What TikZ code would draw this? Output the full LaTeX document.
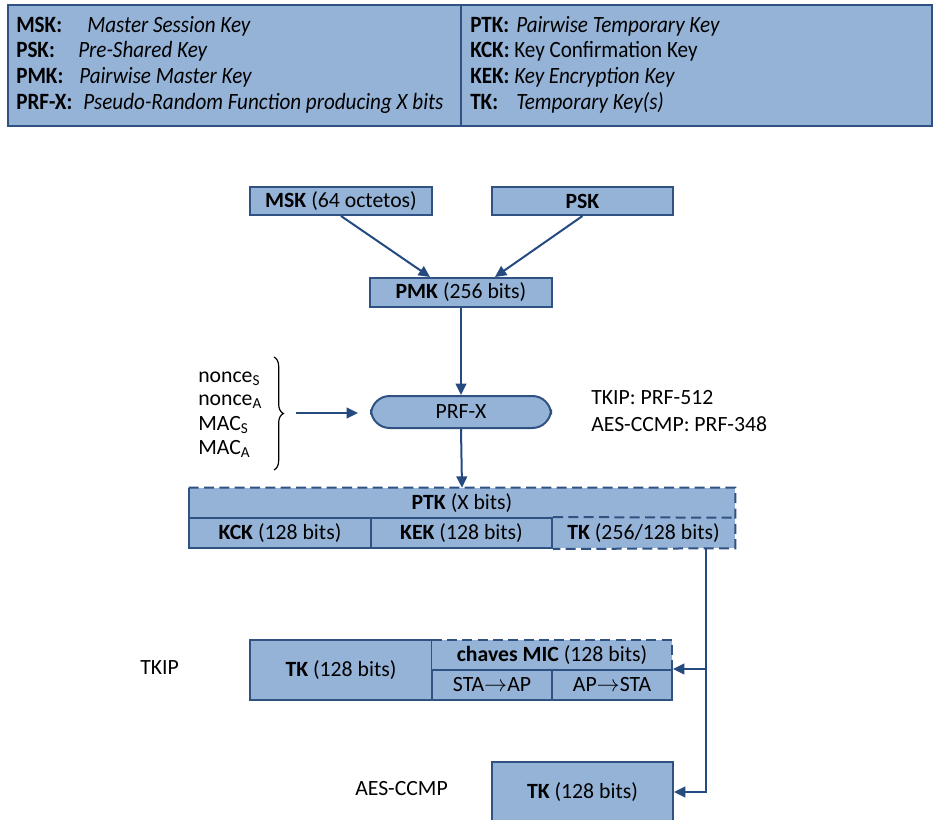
\documentclass[tikz,border=0pt]{standalone}
\usepackage{fontspec}
\setmainfont{Carlito}
\newfontfamily\glossfont[FakeStretch=0.905]{Carlito}
\usetikzlibrary{arrows.meta,decorations.pathreplacing}
\definecolor{boxfill}{HTML}{95B3D7}
\definecolor{boxline}{HTML}{2F5283}
\definecolor{arrowc}{HTML}{244A7F}
\tikzset{
  dims/.style args={#1 by #2}{minimum width=#1*0.75pt, minimum height=#2*0.75pt},
  keybox/.style={draw=boxline, fill=boxfill, line width=1.5pt, inner sep=0pt},
  cell/.style={fill=boxfill, inner sep=0pt},
  edge/.style={draw=boxline, line width=1.5pt},
  dashedge/.style={draw=boxline, line width=1.5pt, dash pattern=on 7.5pt off 4pt},
  conn/.style={draw=arrowc, line width=1.5pt, -{Triangle[length=8.5pt,width=8pt]}},
  gl/.style={anchor=base west, inner sep=0pt, font=\glossfont\fontsize{17.5}{20}\selectfont},
  lbl/.style={anchor=west, inner sep=0pt},
}
\begin{document}
\begin{tikzpicture}[x=0.75pt, y=-0.75pt, font=\fontsize{16.3}{19}\selectfont]
\clip (0,0) rectangle (935,820);

% glossary panel
\node[keybox, dims=453 by 121] (glossL) at (234.5,65.5) {};
\node[keybox, dims=471 by 121] (glossR) at (696.5,65.5) {};
\node[gl] (gmsk)  at (16,33)  {\textbf{MSK:}};
\node[gl] (gmskd) at (87,33)  {\textit{Master Session Key}};
\node[gl] (gpsk)  at (16,58)  {\textbf{PSK:}};
\node[gl] (gpskd) at (78,58)  {\textit{Pre-Shared Key}};
\node[gl] (gpmk)  at (16,84)  {\textbf{PMK:}};
\node[gl] (gpmkd) at (79,84)  {\textit{Pairwise Master Key}};
\node[gl] (gprf)  at (16,110) {\textbf{PRF-X:}};
\node[gl] (gprfd) at (83,110) {\textit{Pseudo-Random Function producing X bits}};
\node[gl] (gptk)  at (470,33)  {\textbf{PTK:}};
\node[gl] (gptkd) at (516,33)  {\textit{Pairwise Temporary Key}};
\node[gl] (gkck)  at (470,58)  {\textbf{KCK:}};
\node[gl] (gkckd) at (514,58)  {Key Confirmation Key};
\node[gl] (gkek)  at (470,84)  {\textbf{KEK:}};
\node[gl] (gkekd) at (514,84)  {\textit{Key Encryption Key}};
\node[gl] (gtk)   at (470,110) {\textbf{TK:}};
\node[gl] (gtkd)  at (516,110) {\textit{Temporary Key(s)}};

% master keys
\node[keybox, dims=182 by 28] (msk) at (341,201) {\textbf{MSK} (64 octetos)};
\node[keybox, dims=181 by 28] (psk) at (582.5,201) {\textbf{PSK}};
\node[keybox, dims=182 by 29] (pmk) at (461,292.5) {\textbf{PMK} (256 bits)};
\draw[conn] (msk.south) -- (pmk.north -| 430,0);
\draw[conn] (psk.south) -- (pmk.north -| 495,0);

% PRF
\node[keybox, rounded corners=14pt, dims=180 by 32] (prf) at (461,412) {PRF-X};
\draw[conn] (pmk.south) -- (prf.north);
\node[lbl] (ns) at (198,379) {nonce\textsubscript{S}};
\node[lbl] (na) at (198,402) {nonce\textsubscript{A}};
\node[lbl] (ms) at (198,425) {MAC\textsubscript{S}};
\node[lbl] (ma) at (198,449) {MAC\textsubscript{A}};
\draw[black, line width=0.9pt, decorate, decoration={brace, amplitude=7pt}] (274,357) -- (274,470);
\coordinate (bracetip) at (296,413);
\coordinate (prfin) at (358,413);
\draw[conn] (bracetip) -- (prfin);
\node[lbl] (tkipprf) at (591,398) {TKIP: PRF-512};
\node[lbl] (aesprf) at (591,424) {AES-CCMP: PRF-348};

% PTK layout
\node[cell, dims=546 by 30] (ptk) at (462,503) {\textbf{PTK} (X bits)};
\node[cell, dims=183 by 30] (tkc) at (643.5,533) {\textbf{TK} (256/128 bits)};
\node[keybox, dims=182 by 30] (kck) at (280,533) {\textbf{KCK} (128 bits)};
\node[keybox, dims=181 by 30] (kek) at (461.5,533) {\textbf{KEK} (128 bits)};
\draw[edge] (ptk.south west) -- (ptk.north west);
\draw[dashedge] (ptk.north west) -- (ptk.north east) -- (tkc.south east) -- (kek.south east);
\draw[dashedge] (kek.north east) -- (tkc.north east);
\draw[conn] (prf.south) -- (ptk.north);

% TKIP layout
\node[lbl] (tkip) at (140,668) {TKIP};
\node[keybox, dims=182 by 60] (tk1) at (341,670) {\textbf{TK} (128 bits)};
\node[cell, dims=240 by 30] (mic) at (552,655) {\textbf{chaves MIC} (128 bits)};
\node[keybox, dims=120 by 30] (sta) at (492,685) {STA$\rightarrow$AP};
\node[keybox, dims=120 by 30] (ap) at (612,685) {AP$\rightarrow$STA};
\draw[dashedge] (mic.north west) -- (mic.north east) -- (mic.south east);

% AES-CCMP layout
\node[lbl] (aes) at (355,789) {AES-CCMP};
\node[keybox, dims=181 by 60] (tk2) at (582.5,792) {\textbf{TK} (128 bits)};

% TK distribution
\coordinate (trunk) at (706,0);
\draw[conn] (trunk |- tkc.south) -- (trunk |- tk2.east) -- (tk2.east);
\draw[conn] (trunk |- ap.north east) -- (ap.north east);
\end{tikzpicture}
\end{document}
